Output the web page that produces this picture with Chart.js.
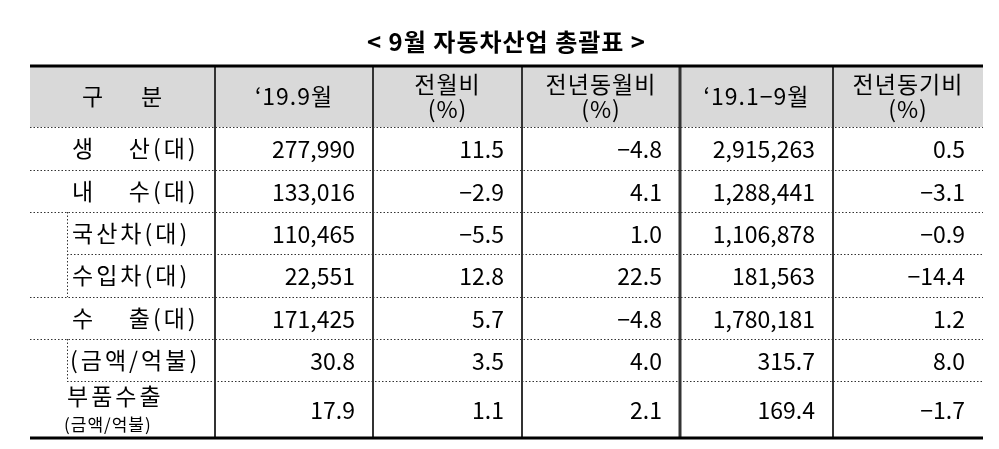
<!DOCTYPE html>
<html><head><meta charset="utf-8">
<script src="https://cdn.jsdelivr.net/npm/chart.js@4/dist/chart.umd.min.js"></script>
<style>html,body{margin:0;padding:0;background:#fff}#w{width:999px;height:449px}</style>
</head><body><div id="w"><canvas id="c"></canvas></div>
<script>
const title = "< 9월 자동차산업 총괄표 >";
const headers = [["구      분"],["‘19.9월"],["전월비","(%)"],["전년동월비","(%)"],["‘19.1−9월"],["전년동기비","(%)"]];
const rowLabels = ["생    산(대)","내    수(대)","국산차(대)","수입차(대)","수    출(대)","(금액/억불)","부품수출"];
const month = ["277,990","133,016","110,465","22,551","171,425","30.8","17.9"];
const momPct = ["11.5","−2.9","−5.5","12.8","5.7","3.5","1.1"];
const yoyMonthPct = ["−4.8","4.1","1.0","22.5","−4.8","4.0","2.1"];
const ytd = ["2,915,263","1,288,441","1,106,878","181,563","1,780,181","315.7","169.4"];
const yoyYtdPct = ["0.5","−3.1","−0.9","−14.4","1.2","8.0","−1.7"];

// layout (scale units)
const colEdges = [0,185,343,492,650,803,953];
const rowEdges = [0,61,104,146,188,231,273,315,372];
const FONT = '"Noto Sans CJK KR", sans-serif';

const tablePlugin = {
  id:'table',
  afterDraw(chart){
    const ctx = chart.ctx, xs = chart.scales.x, ys = chart.scales.y;
    const X = v=>xs.getPixelForValue(v), Y = v=>ys.getPixelForValue(v);
    const L=X(0), R=X(953), T=Y(0), B=Y(372);
    ctx.save();
    ctx.fillStyle='#d9d9d9'; ctx.fillRect(L,T,R-L,Y(rowEdges[1])-T);
    ctx.fillStyle='#000'; ctx.font='bold 24px '+FONT; ctx.textAlign='center'; ctx.textBaseline='middle';
    ctx.letterSpacing='1px';
    ctx.fillText(title,(L+R)/2,42);
    ctx.strokeStyle='#333'; ctx.lineWidth=1; ctx.setLineDash([1.5,2]);
    const indent = X(37);
    for(let i=1;i<rowEdges.length-1;i++){
      const y=Math.round(Y(rowEdges[i]))+0.5;
      let x0=L;
      if(i===4||i===7) x0=indent;
      ctx.beginPath(); ctx.moveTo(x0,y); ctx.lineTo(R,y); ctx.stroke();
    }
    [[3,5],[6,7]].forEach(([a,b])=>{ctx.beginPath();ctx.moveTo(indent+0.5,Y(rowEdges[a]));ctx.lineTo(indent+0.5,Y(rowEdges[b]));ctx.stroke();});
    ctx.setLineDash([]);
    for(let i=1;i<colEdges.length-1;i++){
      ctx.lineWidth = i===4?3:2;
      ctx.beginPath(); ctx.moveTo(X(colEdges[i]),T); ctx.lineTo(X(colEdges[i]),B); ctx.stroke();
    }
    ctx.strokeStyle='#000'; ctx.lineWidth=3;
    [T,B].forEach(y=>{ctx.beginPath();ctx.moveTo(L,y);ctx.lineTo(R,y);ctx.stroke();});
    ctx.fillStyle='#000'; ctx.font='23px '+FONT; ctx.textAlign='center';
    headers.forEach((h,i)=>{
      const cx=(X(colEdges[i])+X(colEdges[i+1]))/2, cy=(T+Y(rowEdges[1]))/2;
      if(h.length===1) ctx.fillText(h[0],cx,cy);
      else {ctx.fillText(h[0],cx,cy-12);ctx.fillText(h[1],cx,cy+13);}
    });
    const cols=[month,momPct,yoyMonthPct,ytd,yoyYtdPct];
    rowLabels.forEach((lab,r)=>{
      const cy=(Y(rowEdges[r+1])+Y(rowEdges[r+2]))/2;
      ctx.textAlign='left'; ctx.font='23px '+FONT; ctx.letterSpacing='3px';
      if(r===6){ctx.fillText(lab,X(37),cy-13); ctx.font='17px '+FONT; ctx.letterSpacing='1px'; ctx.fillText('(금액/억불)',X(34),cy+15); ctx.font='23px '+FONT;}
      else ctx.fillText(lab,X(r===5?40:42),cy);
      ctx.textAlign='right'; ctx.letterSpacing='0px';
      cols.forEach((arr,c)=>{ ctx.fillText(arr[r], X(colEdges[c+2])-18, cy+1); });
    });
    ctx.restore();
  }
};

new Chart(document.getElementById('c'),{
  type:'scatter',
  data:{datasets:[{data:rowLabels.map((l,i)=>({x:colEdges[0],y:rowEdges[i+1]})),pointRadius:0}]},
  options:{responsive:true,maintainAspectRatio:false,animation:false,
    layout:{padding:{left:30,right:16,top:66,bottom:11}},
    plugins:{legend:{display:false},tooltip:{enabled:false}},
    scales:{x:{type:'linear',min:0,max:953,display:false},y:{type:'linear',min:0,max:372,reverse:true,display:false}}},
  plugins:[tablePlugin]
});
</script></body></html>
